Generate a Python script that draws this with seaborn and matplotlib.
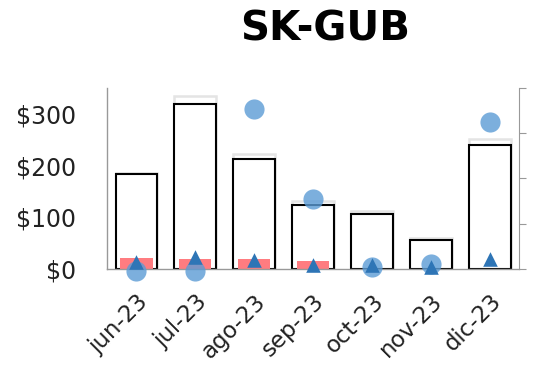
import matplotlib
matplotlib.use("Agg")
import matplotlib.pyplot as plt
import matplotlib.transforms as mtransforms
import seaborn as sns
import pandas as pd

months = ["jun-23", "jul-23", "ago-23", "sep-23", "oct-23", "nov-23", "dic-23"]
target = [186, 335, 222, 131, 112, 60, 251]
actual = [184, 319, 213, 124, 106, 56, 240]
red_vals = [21, 19, 19, 15, 0, 0, 0]
circles = [-3, -3, 310, 135, 4, 10, 284]
triangles = [13, 23, 17, 8, 8, 4, 19]
y_ticks = [0, 100, 200, 300]
y_labels = ["$0", "$100", "$200", "$300"]

df = pd.DataFrame({"mes": months, "target": target, "actual": actual,
                   "red": red_vals, "circ": circles, "tri": triangles})

sns.set_style("white")
plt.rcParams["font.family"] = ["DejaVu Sans"]

fig = plt.figure(figsize=(5.39, 3.68), dpi=100)
ax = fig.add_axes([0.1985, 0.269, 0.7645, 0.492])

sns.barplot(data=df, x="mes", y="target", order=months, ax=ax, width=0.71,
            color="white", edgecolor="#e4e4e4", linewidth=1.8, errorbar=None,
            saturation=1)
sns.barplot(data=df, x="mes", y="actual", order=months, ax=ax, width=0.71,
            color="white", edgecolor="black", linewidth=1.5, errorbar=None,
            saturation=1)
sns.barplot(data=df, x="mes", y="red", order=months, ax=ax, width=0.55,
            color="#ff7c80", linewidth=0, errorbar=None, saturation=1)
sns.stripplot(data=df, x="mes", y="circ", order=months, ax=ax, jitter=False,
              color="#5b9bd5", alpha=0.8, size=14.5, linewidth=0, zorder=5,
              clip_on=False)
sns.stripplot(data=df, x="mes", y="tri", order=months, ax=ax, jitter=False,
              color="#2e75b6", marker="^", size=10.5, linewidth=0, zorder=6,
              clip_on=False)

ax.set_xlim(-0.5, 6.5)
ax.set_ylim(0, 350)
ax.set_yticks(y_ticks)
ax.set_yticklabels(y_labels, fontsize=17, color="#222222")
ax.set_xticks(range(len(months)))
ax.set_xticklabels(months, rotation=45, ha="right", rotation_mode="anchor",
                   fontsize=16.5, color="#222222")
offset = mtransforms.ScaledTranslation(-6 / 100, 0, fig.dpi_scale_trans)
for lbl in ax.get_xticklabels():
    lbl.set_transform(lbl.get_transform() + offset)
ax.set_xlabel("")
ax.set_ylabel("")
ax.tick_params(axis="y", length=0, pad=22)
ax.tick_params(axis="x", length=0, pad=15)
for s in ["top", "right"]:
    ax.spines[s].set_visible(False)
for s in ["left", "bottom"]:
    ax.spines[s].set_color("#999999")
    ax.spines[s].set_linewidth(1)

ax2 = ax.twinx()
ax2.set_ylim(0, 4)
ax2.set_yticks([0, 1, 2, 3, 4])
ax2.set_yticklabels([])
ax2.tick_params(axis="y", length=5, color="#999999", direction="out")
for s in ["top", "left", "bottom"]:
    ax2.spines[s].set_visible(False)
ax2.spines["right"].set_color("#999999")

fig.text(0.603, 0.92, "SK-GUB", ha="center", va="center", fontsize=29,
         fontweight="bold", color="black")

fig.savefig("out.png", dpi=100)
